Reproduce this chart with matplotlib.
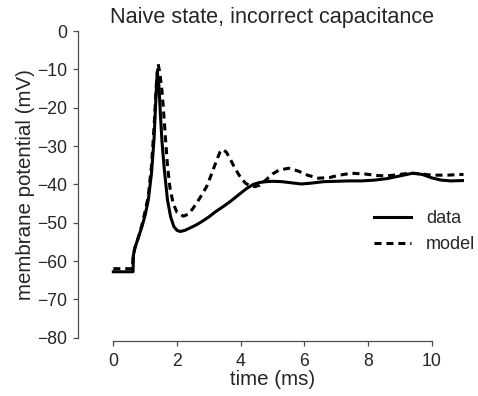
import matplotlib
matplotlib.use("Agg")
import matplotlib.pyplot as plt

plt.rcParams['font.family'] = ['Liberation Sans', 'DejaVu Sans']

data_t = [0.0, 0.62, 0.63, 0.68, 0.78, 0.9, 1.0, 1.1, 1.2, 1.28, 1.34, 1.38, 1.43, 1.48,
          1.53, 1.6, 1.7, 1.8, 1.9, 2.0, 2.1, 2.25, 2.4, 2.6, 2.8, 3.0, 3.2, 3.45, 3.7,
          4.0, 4.2, 4.4, 4.6, 4.8, 5.0, 5.3, 5.6, 5.9, 6.2, 6.6, 7.0, 7.4, 7.8, 8.2,
          8.6, 9.0, 9.4, 9.7, 10.0, 10.3, 10.6, 11.0]
data_v = [-62.8, -62.8, -58.5, -56.5, -54, -51, -48, -44, -37, -28, -17, -10.6, -14, -22,
          -29, -36, -44, -48.5, -51, -52, -52.3, -52, -51.4, -50.6, -49.6, -48.5, -47.2,
          -45.8, -44.3, -42.3, -41, -40, -39.5, -39.3, -39.2, -39.3, -39.6, -39.9, -39.7,
          -39.3, -39.2, -39.1, -39.1, -38.9, -38.5, -37.8, -37.1, -37.4, -38.3, -38.9,
          -39.1, -39.0]

model_t = [0.0, 0.6, 0.62, 0.68, 0.78, 0.9, 1.0, 1.1, 1.2, 1.28, 1.35, 1.41, 1.46, 1.52,
           1.57, 1.63, 1.7, 1.78, 1.88, 2.0, 2.2, 2.35, 2.5, 2.7, 2.93, 3.1, 3.25, 3.35,
           3.44, 3.55, 3.66, 3.8, 3.98, 4.15, 4.3, 4.45, 4.6, 4.8, 5.0, 5.2, 5.5, 5.8,
           6.1, 6.44, 6.8, 7.1, 7.49, 7.9, 8.3, 8.59, 8.9, 9.2, 9.41, 9.7, 10.0, 10.5, 11.0]
model_v = [-62, -62, -58.5, -56.5, -54, -50.5, -47, -43, -35, -25, -14, -8.6, -11, -15,
           -20, -27, -35, -41, -45, -47.3, -48.3, -47.8, -46.3, -43.8, -40.6, -37, -33.6,
           -31.6, -30.9, -31.6, -33.2, -35.5, -38, -39.7, -40.4, -40.6, -40.2, -38.8, -37.3,
           -36.3, -35.8, -36.5, -37.6, -38.4, -38.2, -37.6, -37.1, -37.3, -37.7, -37.8,
           -37.5, -37.2, -37.1, -37.3, -37.6, -37.6, -37.4]

xticks = [0, 2, 4, 6, 8, 10]
yticks = [0, -10, -20, -30, -40, -50, -60, -70, -80]

fig = plt.figure(figsize=(4.78, 3.96), dpi=100)
ax = fig.add_axes([0.1705, 0.1472, 0.7992, 0.7745])

ax.plot(data_t, data_v, color='black', lw=2.2, label='data')
ax.plot(model_t, model_v, color='black', lw=2.2, ls=(0, (2.3, 1.6)), label='model')

ax.set_xlim(-1, 11)
ax.set_ylim(-80, 0)
ax.set_xticks(xticks)
ax.set_yticks(yticks)
ax.set_yticklabels([f"\u2212{abs(v)}" if v < 0 else str(v) for v in yticks])

for s in ['top', 'right']:
    ax.spines[s].set_visible(False)
for s in ['left', 'bottom']:
    ax.spines[s].set_color('0.3')
    ax.spines[s].set_linewidth(0.9)
    ax.spines[s].set_position(('outward', 2.4))
ax.spines['left'].set_bounds(-80, 0)
ax.spines['bottom'].set_bounds(0, 10)
ax.tick_params(direction='out', length=3.6, width=0.9, color='0.3', labelsize=12.7,
               labelcolor='0.15', pad=4)
ax.tick_params(axis='x', pad=5)

ax.set_xlabel('time (ms)', fontsize=14.8, color='0.15', labelpad=0)
ax.set_ylabel('membrane potential (mV)', fontsize=14.8, color='0.15', labelpad=2)
ax.set_title('Naive state, incorrect capacitance', fontsize=15.6, color='0.15', pad=6)

leg = ax.legend(loc='center left', bbox_to_anchor=(0.722, 0.345), frameon=False,
                fontsize=13, handlelength=2.1, handletextpad=0.8, labelspacing=0.5)
for t in leg.get_texts():
    t.set_color('0.15')

fig.savefig('out.png', dpi=100)
